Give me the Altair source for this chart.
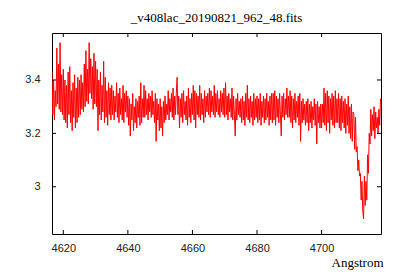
import altair as alt
import pandas as pd

# Flux values, 0.25 Angstrom apart starting at 4616.5
flux = [
    3.43, 3.27, 3.40, 3.25, 3.36, 3.30, 3.52, 3.31, 3.46, 3.29, 3.54, 3.28, 3.42, 3.27,
    3.44, 3.25, 3.40, 3.24, 3.38, 3.22, 3.43, 3.27, 3.45, 3.24, 3.36, 3.21, 3.39, 3.26, 3.42, 3.22, 3.37, 3.24, 3.41, 3.26,
    3.40, 3.27, 3.42, 3.29, 3.39, 3.28, 3.46, 3.30, 3.51, 3.32, 3.44, 3.31, 3.54, 3.35, 3.48, 3.33, 3.45, 3.29, 3.50, 3.31,
    3.47, 3.30, 3.44, 3.21, 3.40, 3.27, 3.43, 3.25, 3.38, 3.28, 3.47, 3.24, 3.41, 3.26, 3.36, 3.23, 3.39, 3.27, 3.37, 3.25,
    3.38, 3.27, 3.36, 3.25, 3.34, 3.28, 3.39, 3.26, 3.35, 3.24, 3.37, 3.27, 3.33, 3.25, 3.38, 3.24, 3.35, 3.28, 3.36, 3.26,
    3.34, 3.23, 3.33, 3.19, 3.31, 3.25, 3.35, 3.21, 3.30, 3.24, 3.33, 3.22, 3.32, 3.26, 3.34, 3.23, 3.39, 3.24, 3.33, 3.26,
    3.38, 3.26, 3.36, 3.27, 3.33, 3.25, 3.35, 3.28, 3.34, 3.26, 3.36, 3.27, 3.32, 3.24, 3.35, 3.17, 3.33, 3.25, 3.31, 3.21,
    3.33, 3.22, 3.30, 3.19, 3.32, 3.24, 3.34, 3.25, 3.31, 3.27, 3.36, 3.25, 3.33, 3.28, 3.35, 3.26, 3.37, 3.25, 3.34, 3.27,
    3.35, 3.41, 3.27, 3.34, 3.22, 3.33, 3.26, 3.35, 3.24, 3.36, 3.27, 3.32, 3.25, 3.34, 3.23, 3.37, 3.26, 3.33, 3.24, 3.35,
    3.27, 3.38, 3.25, 3.36, 3.22, 3.35, 3.27, 3.34, 3.26, 3.38, 3.25, 3.35, 3.27, 3.33, 3.24, 3.36, 3.26, 3.34, 3.28, 3.35,
    3.27, 3.37, 3.26, 3.36, 3.28, 3.34, 3.27, 3.38, 3.26, 3.35, 3.28, 3.36, 3.27, 3.33, 3.26, 3.36, 3.28, 3.35, 3.27, 3.37,
    3.26, 3.39, 3.27, 3.34, 3.25, 3.35, 3.28, 3.33, 3.26, 3.37, 3.25, 3.34, 3.27, 3.19, 3.33, 3.25, 3.35, 3.27, 3.32, 3.26,
    3.33, 3.24, 3.34, 3.25, 3.32, 3.23, 3.35, 3.26, 3.38, 3.25, 3.33, 3.24, 3.34, 3.26, 3.32, 3.23, 3.35, 3.25, 3.33, 3.26,
    3.34, 3.24, 3.33, 3.25, 3.35, 3.23, 3.32, 3.26, 3.34, 3.24, 3.33, 3.25, 3.35, 3.26, 3.32, 3.23, 3.34, 3.25, 3.35, 3.24,
    3.35, 3.25, 3.36, 3.23, 3.34, 3.26, 3.33, 3.24, 3.35, 3.27, 3.19, 3.34, 3.26, 3.35, 3.25, 3.33, 3.27, 3.37, 3.26, 3.34,
    3.26, 3.36, 3.24, 3.34, 3.22, 3.33, 3.25, 3.35, 3.24, 3.32, 3.26, 3.34, 3.23, 3.35, 3.17, 3.32, 3.24, 3.33, 3.25, 3.31,
    3.23, 3.32, 3.24, 3.33, 3.21, 3.31, 3.24, 3.32, 3.22, 3.30, 3.25, 3.33, 3.23, 3.31, 3.16, 3.32, 3.24, 3.30, 3.22, 3.31,
    3.22, 3.31, 3.24, 3.37, 3.23, 3.35, 3.21, 3.36, 3.24, 3.34, 3.20, 3.33, 3.25, 3.35, 3.23, 3.34, 3.22, 3.36, 3.24, 3.33,
    3.24, 3.35, 3.22, 3.33, 3.21, 3.34, 3.24, 3.32, 3.22, 3.33, 3.20, 3.31, 3.23, 3.34, 3.20, 3.30, 3.18, 3.31, 3.17, 3.28,
    3.27, 3.14, 3.26, 3.13, 3.15, 3.06, 3.10, 3.04, 3.05, 2.95, 3.02, 2.91, 2.88, 3.04, 2.93, 3.02, 2.95, 3.12, 3.05, 3.20,
    3.16, 3.29, 3.19, 3.27, 3.21, 3.30, 3.18, 3.28, 3.22, 3.26, 3.20, 3.29, 3.23, 3.33,
]
wl_start = 4616.5
wl_step = 0.25
wavelength = [round(wl_start + wl_step * i, 2) for i in range(len(flux))]

x_ticks = [4620, 4640, 4660, 4680, 4700]
y_ticks = [3.0, 3.2, 3.4]
x_domain = [4616.5, 4718.4]
y_domain = [2.823, 3.576]

W, H = 329, 201
TL = 4

df = pd.DataFrame({"wl": wavelength, "flux": flux})
dxt = pd.DataFrame({"wl": x_ticks})
dyt = pd.DataFrame({"flux": y_ticks})

xs = alt.Scale(domain=x_domain, nice=False, zero=False)
ys = alt.Scale(domain=y_domain, nice=False, zero=False)

x_axis = alt.Axis(
    values=x_ticks, format="d", tickSize=0, domain=False, grid=False,
    labelPadding=8, labelFont="Liberation Sans", labelFontSize=11,
    labelColor="#222222",
    title="Angstrom", titleFont="Liberation Serif", titleFontSize=13,
    titleFontWeight="normal", titleColor="#000000",
    titleAnchor="end", titleAlign="right", titleBaseline="alphabetic",
    titleX=331, titleY=32)
y_axis = alt.Axis(
    values=y_ticks, format="~g", tickSize=0, domain=False, grid=False,
    labelPadding=12, labelFont="Liberation Sans", labelFontSize=11,
    labelColor="#222222", title=None)

line = alt.Chart(df).mark_line(color="#ff0000", strokeWidth=1, clip=True).encode(
    x=alt.X("wl:Q", scale=xs, axis=x_axis),
    y=alt.Y("flux:Q", scale=ys, axis=y_axis),
)

tick_bottom = alt.Chart(dxt).mark_rule(color="black", strokeWidth=1).encode(
    x=alt.X("wl:Q", scale=xs, axis=x_axis), y=alt.value(H - TL), y2=alt.value(H))
tick_top = alt.Chart(dxt).mark_rule(color="black", strokeWidth=1).encode(
    x=alt.X("wl:Q", scale=xs, axis=x_axis), y=alt.value(0), y2=alt.value(TL))
tick_left = alt.Chart(dyt).mark_rule(color="black", strokeWidth=1).encode(
    y=alt.Y("flux:Q", scale=ys, axis=y_axis), x=alt.value(0), x2=alt.value(TL))
tick_right = alt.Chart(dyt).mark_rule(color="black", strokeWidth=1).encode(
    y=alt.Y("flux:Q", scale=ys, axis=y_axis), x=alt.value(W - TL), x2=alt.value(W))

chart = alt.layer(line, tick_bottom, tick_top, tick_left, tick_right).properties(
    width=W, height=H,
    title=alt.TitleParams(
        "_v408lac_20190821_962_48.fits", font="Liberation Serif", fontSize=13,
        fontWeight="normal", anchor="middle", offset=8, color="#000000"),
    autosize=alt.AutoSizeParams(type="none"),
    padding={"left": 44, "top": 25, "right": 11, "bottom": 38},
    background="white",
).configure_view(stroke="black", strokeWidth=1)

chart.save("out.html", embed_options={"renderer": "svg", "actions": False})
